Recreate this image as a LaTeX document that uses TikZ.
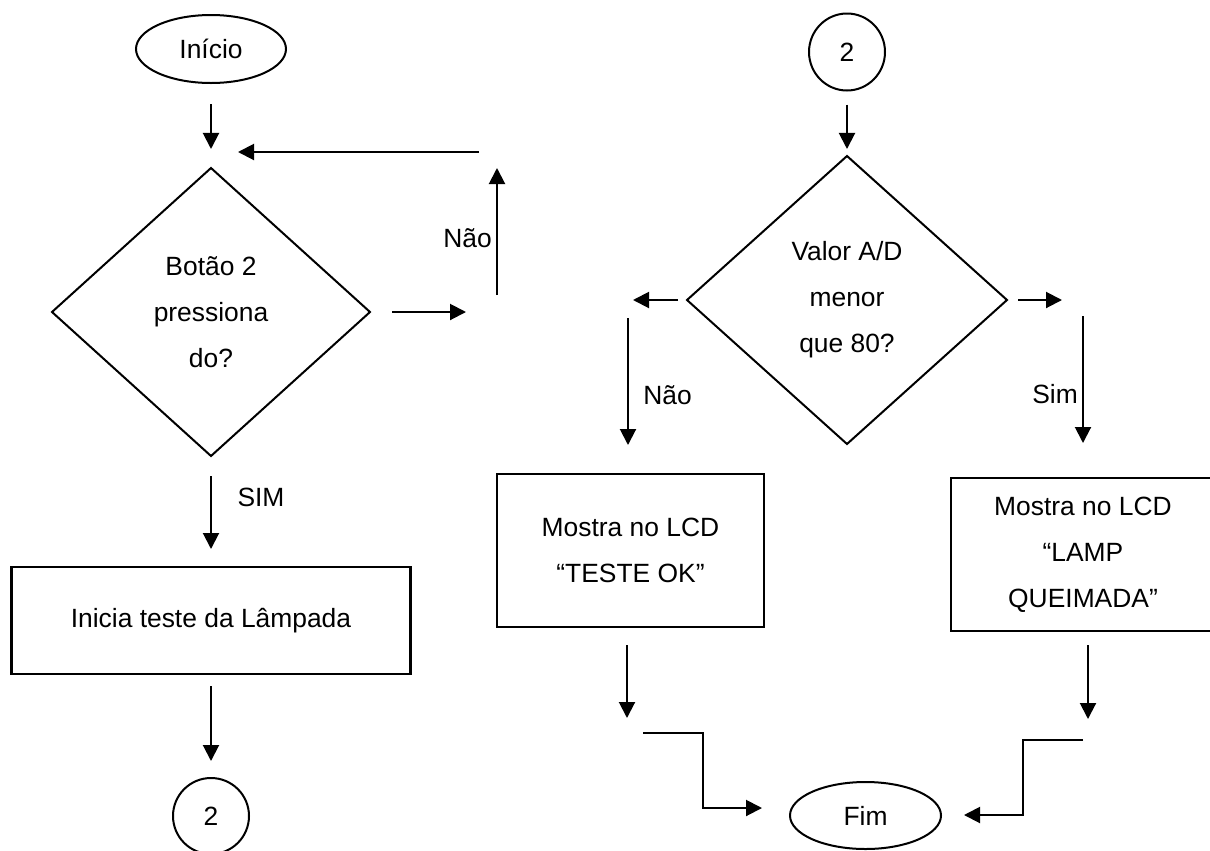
\documentclass[tikz,border=0pt]{standalone}
\usepackage{fontspec}
\setmainfont{Liberation Sans}
\usetikzlibrary{shapes.geometric,arrows.meta}
\begin{document}
\begin{tikzpicture}[x=0.75pt,y=-0.75pt,
  txt/.style={font=\fontsize{19.8pt}{34.5pt}\selectfont},
  base/.style={txt,draw,line width=1.5pt,inner sep=0pt,outer sep=0pt,align=center},
  oval/.style={base,ellipse},
  dec/.style={base,diamond},
  box/.style={base,rectangle,line width=2pt},
  lbl/.style={txt,inner sep=0pt},
  arr/.style={line width=1.5pt,line join=miter,-{Triangle[length=12pt,width=12pt]}}
]
\useasboundingbox (0,0) rectangle (1210,850);
\clip (0,0) rectangle (1210,850);

% left column
\node[oval, minimum width=112.5pt, minimum height=51pt] (ini) at (211,49) {Início};
\node[dec, minimum width=238.5pt, minimum height=216pt] (d1) at (211,312) {Botão 2\\pressiona\\do?};
\node[box, minimum width=299.25pt, minimum height=80.25pt] (r1) at (211,620.5) {Inicia teste da Lâmpada};
\node[oval, minimum width=57pt, minimum height=57pt] (c1) at (211,816) {2};

% right column
\node[oval, minimum width=57pt, minimum height=57.75pt] (c2) at (847,52) {2};
\node[dec, minimum width=240pt, minimum height=216pt] (d2) at (847,300) {Valor A/D\\menor\\que 80?};
\node[box, minimum width=200.25pt, minimum height=114.75pt] (t1) at (630.5,550.5) {Mostra no LCD\\“TESTE OK”};
\node[box, minimum width=198pt, minimum height=114.75pt] (l1) at (1083,554.5) {Mostra no LCD\\“LAMP\\QUEIMADA”};
\node[oval, minimum width=113.25pt, minimum height=50.25pt] (fim) at (865.5,815.5) {Fim};

% left connectors
\draw[arr, shorten <=15.75pt, shorten >=14.25pt] (ini) -- (d1);
\coordinate (n1) at (466,312);
\draw[arr, shorten <=16.5pt] (d1.east) -- (n1);
\coordinate (n2) at (497,295);
\coordinate (n3) at (497,168);
\draw[arr] (n2) -- (n3);
\coordinate (n4) at (479,152);
\coordinate (n5) at (238,152);
\draw[arr] (n4) -- (n5);
\node[lbl, anchor=east] (nao1) at (492,238) {Não};
\draw[arr, shorten <=15pt, shorten >=13.5pt] (d1) -- (r1);
\node[lbl] (sim1) at (261,497) {SIM};
\draw[arr, shorten <=9pt, shorten >=12.75pt] (r1) -- (c1);

% right connectors
\draw[arr, shorten <=10.5pt, shorten >=5.25pt] (c2) -- (d2);
\coordinate (m1) at (633,300);
\draw[arr, shorten <=6.75pt] (d2.west) -- (m1);
\coordinate (m2) at (628,318);
\draw[arr, shorten >=21.75pt] (m2) -- (m2 |- t1.north);
\node[lbl, anchor=west] (nao2) at (643,395) {Não};
\coordinate (m3) at (1062,300);
\draw[arr, shorten <=8.25pt] (d2.east) -- (m3);
\coordinate (m4) at (1083,316);
\draw[arr, shorten >=26.25pt] (m4) -- (m4 |- l1.north);
\node[lbl, anchor=east] (sim2) at (1078,394) {Sim};

\coordinate (m5) at (627,718);
\draw[arr, shorten <=13.5pt] (t1.south -| m5) -- (m5);
\coordinate (e1) at (643,733);
\coordinate (e2) at (703,733);
\coordinate (e3) at (703,808);
\draw[arr, shorten >=21pt] (e1) -- (e2) -- (e3) -- (e3 -| fim.west);

\coordinate (m6) at (1088,719);
\draw[arr, shorten <=10.5pt] (l1.south -| m6) -- (m6);
\coordinate (f1) at (1083,740);
\coordinate (f2) at (1023,740);
\coordinate (f3) at (1023,815);
\draw[arr, shorten >=17.25pt] (f1) -- (f2) -- (f3) -- (f3 -| fim.east);
\end{tikzpicture}
\end{document}
